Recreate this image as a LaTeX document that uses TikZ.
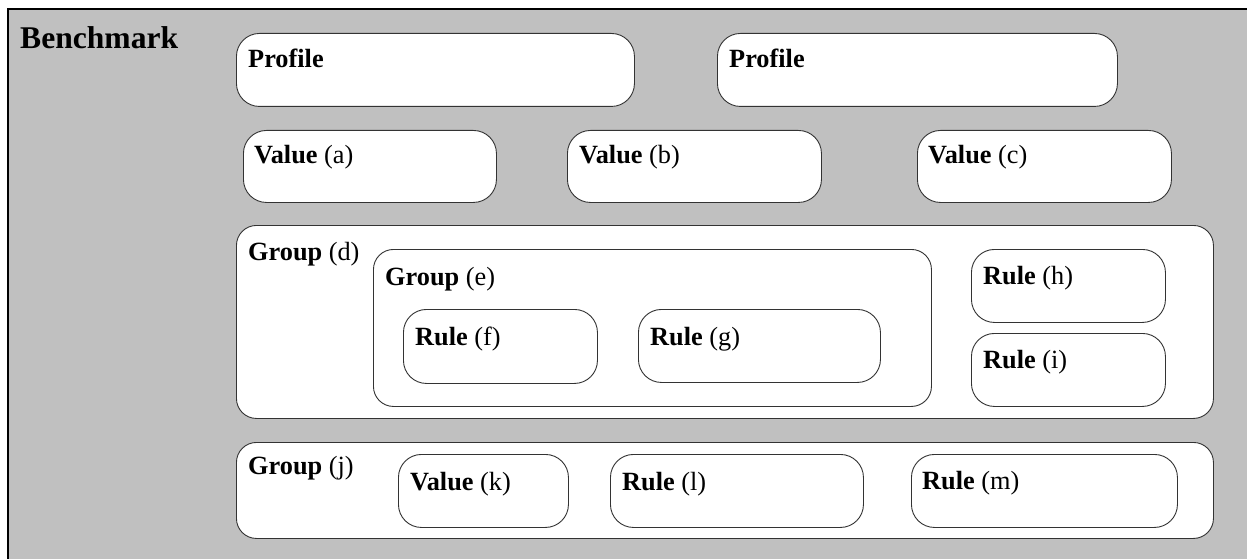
\documentclass[tikz,border=0pt]{standalone}
\usepackage{fontspec}
\setmainfont{Liberation Serif}
\usetikzlibrary{positioning}
\definecolor{panelgray}{HTML}{C0C0C0}
\tikzset{
  box/.style={draw=black!80, line width=0.9pt, fill=white, rounded corners=23pt,
    anchor=north west, inner sep=0pt},
  grp/.style={box, rounded corners=20pt},
  tag/.style={anchor=base west, inner sep=0pt, font=\fontsize{26.3}{30}\selectfont},
}

\begin{document}
\begin{tikzpicture}[x=1pt, y=-1pt]
    \useasboundingbox (0,0) rectangle (1247,559);
    \clip (0,0) rectangle (1247,559);
    \draw[line width=2pt, fill=panelgray] (8,9) rectangle (1262,572);
    \node[anchor=base west, inner sep=0pt, font=\fontsize{31.6}{36}\selectfont\bfseries]
      (bench) at (20,49) {Benchmark};

    % profiles
    \node[box, minimum width=398pt, minimum height=73pt] (prof-1) at (236,33) {};
    \node[box, minimum width=400pt, minimum height=73pt] (prof-2) at (717,33) {};
    \node[tag] (t-prof-1) at ([shift={(12,35)}]prof-1.north west) {\textbf{Profile}};
    \node[tag] (t-prof-2) at ([shift={(12,35)}]prof-2.north west) {\textbf{Profile}};

    % values
    \node[box, minimum width=253pt, minimum height=72pt] (val-a) at (243,130) {};
    \node[box, minimum width=254pt, minimum height=72pt] (val-b) at (567,130) {};
    \node[box, minimum width=254pt, minimum height=72pt] (val-c) at (917,130) {};
    \node[tag] (t-val-a) at ([shift={(11,33)}]val-a.north west) {\textbf{Value} (a)};
    \node[tag] (t-val-b) at ([shift={(12,33)}]val-b.north west) {\textbf{Value} (b)};
    \node[tag] (t-val-c) at ([shift={(11,33)}]val-c.north west) {\textbf{Value} (c)};

    % group d
    \node[grp, minimum width=977pt, minimum height=193pt] (grp-d) at (236,225) {};
    \node[tag] (t-grp-d) at ([shift={(12,35)}]grp-d.north west) {\textbf{Group} (d)};
    \node[grp, minimum width=558pt, minimum height=157pt] (grp-e) at (373,249) {};
    \node[tag] (t-grp-e) at ([shift={(12,36)}]grp-e.north west) {\textbf{Group} (e)};
    \node[box, minimum width=194pt, minimum height=74pt] (rule-f) at (403,309) {};
    \node[box, minimum width=242pt, minimum height=73pt] (rule-g) at (638,309) {};
    \node[tag] (t-rule-f) at ([shift={(12,36)}]rule-f.north west) {\textbf{Rule} (f)};
    \node[tag] (t-rule-g) at ([shift={(12,36)}]rule-g.north west) {\textbf{Rule} (g)};
    \node[box, minimum width=194pt, minimum height=73pt] (rule-h) at (971,249) {};
    \node[box, minimum width=194pt, minimum height=73pt] (rule-i) at (971,333) {};
    \node[tag] (t-rule-h) at ([shift={(12,35)}]rule-h.north west) {\textbf{Rule} (h)};
    \node[tag] (t-rule-i) at ([shift={(12,35)}]rule-i.north west) {\textbf{Rule} (i)};

    % group j
    \node[grp, minimum width=977pt, minimum height=96pt] (grp-j) at (236,442) {};
    \node[tag] (t-grp-j) at ([shift={(12,32)}]grp-j.north west) {\textbf{Group} (j)};
    \node[box, minimum width=170pt, minimum height=73pt] (val-k) at (398,454) {};
    \node[box, minimum width=253pt, minimum height=73pt] (rule-l) at (610,454) {};
    \node[box, minimum width=266pt, minimum height=73pt] (rule-m) at (911,454) {};
    \node[tag] (t-val-k) at ([shift={(12,36)}]val-k.north west) {\textbf{Value} (k)};
    \node[tag] (t-rule-l) at ([shift={(12,36)}]rule-l.north west) {\textbf{Rule} (l)};
    \node[tag] (t-rule-m) at ([shift={(11,35)}]rule-m.north west) {\textbf{Rule} (m)};
\end{tikzpicture}
\end{document}
